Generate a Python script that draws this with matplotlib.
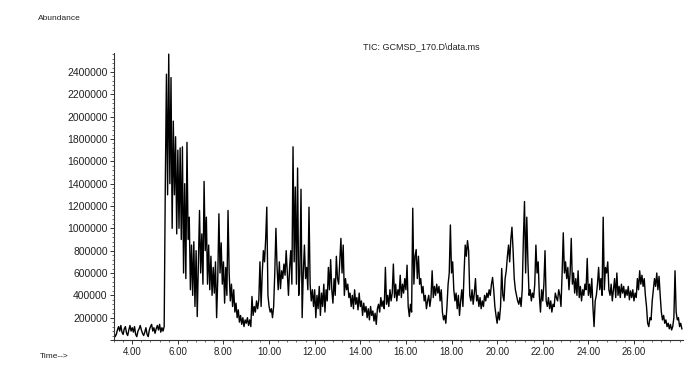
import numpy as np
import matplotlib
matplotlib.use("Agg")
import matplotlib.pyplot as plt
from matplotlib.ticker import MultipleLocator, FixedLocator, FuncFormatter

# scan grid (minutes) - TIC sampled every 0.05 min
SCAN_START = 3.20
SCAN_STEP = 0.05

# abundance in units of 10 000 counts, one row per minute
tic_1e4 = [
    # 3.20 - 3.95
    6, 3, 5, 9, 12, 8, 13, 7, 5, 10, 12, 6, 4, 9, 13, 8,
    # 4
    11, 7, 12, 5, 3, 8, 10, 13, 9, 6, 4, 7, 11, 5, 3, 9, 12, 14, 8, 11,
    # 5
    6, 10, 13, 9, 14, 7, 11, 8, 12, 140, 238, 130, 256, 140, 235, 100, 196, 130, 182, 95,
    # 6
    170, 100, 172, 90, 173, 60, 140, 55, 177, 90, 110, 45, 85, 40, 88, 30, 80, 21, 70, 116,
    # 7
    60, 95, 50, 142, 80, 110, 50, 85, 45, 75, 40, 65, 42, 70, 20, 55, 113, 60, 87, 50,
    # 8
    70, 33, 65, 40, 116, 60, 35, 50, 30, 45, 25, 33, 20, 27, 16, 22, 14, 20, 12, 18,
    # 9
    15, 20, 13, 18, 12, 39, 22, 30, 25, 35, 28, 36, 70, 30, 60, 80, 70, 90, 119, 40,
    # 10
    30, 25, 28, 20, 30, 60, 100, 65, 45, 70, 46, 62, 55, 68, 58, 80, 60, 40, 65, 80,
    # 11
    50, 173, 70, 137, 50, 154, 40, 60, 135, 20, 60, 85, 55, 65, 45, 119, 50, 35, 45, 30,
    # 12
    45, 20, 40, 28, 48, 22, 42, 30, 50, 25, 45, 35, 65, 45, 72, 45, 33, 55, 40, 75,
    # 13
    55, 50, 70, 91, 60, 85, 40, 55, 45, 50, 38, 42, 30, 40, 28, 45, 32, 38, 27, 42,
    # 14
    30, 35, 22, 33, 25, 30, 20, 28, 18, 30, 22, 26, 17, 24, 14, 28, 32, 25, 38, 30,
    # 15
    35, 28, 65, 32, 40, 30, 45, 35, 42, 68, 38, 50, 35, 45, 40, 58, 38, 50, 42, 55,
    # 16
    45, 67, 30, 21, 32, 25, 118, 50, 75, 81, 55, 75, 50, 55, 42, 48, 35, 40, 28, 35,
    # 17
    40, 30, 38, 62, 38, 48, 40, 50, 42, 48, 35, 45, 25, 18, 22, 15, 30, 50, 60, 103,
    # 18
    60, 70, 45, 35, 42, 28, 40, 22, 35, 45, 30, 60, 85, 75, 89, 80, 40, 35, 45, 32,
    # 19
    42, 55, 35, 40, 30, 38, 28, 35, 30, 40, 35, 42, 38, 45, 40, 50, 56, 45, 30, 22,
    # 20
    15, 25, 18, 30, 64, 40, 35, 55, 62, 75, 85, 70, 90, 101, 80, 55, 45, 40, 35, 32,
    # 21
    38, 30, 45, 90, 124, 60, 110, 70, 40, 45, 35, 42, 38, 50, 85, 60, 70, 40, 25, 45,
    # 22
    35, 50, 80, 35, 30, 38, 28, 35, 25, 32, 30, 42, 38, 35, 45, 40, 30, 60, 96, 60,
    # 23
    70, 55, 65, 45, 60, 91, 50, 60, 42, 55, 40, 62, 38, 48, 35, 45, 40, 50, 45, 73,
    # 24
    40, 50, 38, 55, 30, 12, 35, 40, 50, 65, 45, 55, 40, 110, 45, 65, 60, 70, 45, 40,
    # 25
    50, 35, 45, 55, 38, 60, 40, 48, 38, 50, 42, 48, 38, 45, 40, 48, 36, 44, 38, 45,
    # 26
    35, 42, 38, 55, 45, 62, 50, 58, 48, 55, 40, 30, 15, 12, 20, 18, 35, 45, 55, 48,
    # 27
    60, 45, 57, 40, 25, 18, 22, 15, 18, 12, 15, 10, 14, 9, 12, 20, 62, 25, 18, 20,
    # 28.00 - 28.10
    12, 15, 10,
]

time_labels = [4, 6, 8, 10, 12, 14, 16, 18, 20, 22, 24, 26]

abundance = np.array(tic_1e4, dtype=float) * 1e4
time_min = SCAN_START + SCAN_STEP * np.arange(len(abundance))

plt.rcParams['font.family'] = ['Liberation Sans', 'DejaVu Sans']

fig = plt.figure(figsize=(6.88, 3.68), dpi=100)
ax = fig.add_axes([114 / 688, 28 / 368, 569 / 688, 287 / 368])

ax.plot(time_min, abundance, color='#000000', linewidth=1.0)

ax.set_xlim(3.2, 28.15)
ax.set_ylim(0, 2.57e6)

ax.xaxis.set_major_locator(FixedLocator(time_labels))
ax.xaxis.set_minor_locator(MultipleLocator(0.4))
ax.xaxis.set_major_formatter(FuncFormatter(lambda v, p: f'{v:.2f}'))
ax.yaxis.set_major_locator(MultipleLocator(200000))
ax.yaxis.set_minor_locator(MultipleLocator(40000))
ax.yaxis.set_major_formatter(FuncFormatter(lambda v, p: '' if v == 0 else f'{int(v)}'))

for s in ('top', 'right'):
    ax.spines[s].set_visible(False)
for s in ('left', 'bottom'):
    ax.spines[s].set_linewidth(0.8)
    ax.spines[s].set_color('#333333')

ax.tick_params(which='major', length=3, width=0.7, pad=2, labelsize=7,
               color='#333333', labelcolor='#222222')
ax.tick_params(axis='y', which='major', labelsize=7.5, pad=1.5)
ax.tick_params(which='minor', length=1.5, width=0.6, color='#555555')

fig.text(38 / 688, 1 - 19 / 368, 'Abundance', fontsize=6, color='#222222', va='center')
fig.text(421 / 688, 1 - 47 / 368, 'TIC: GCMSD_170.D\\data.ms', fontsize=6.5,
         color='#222222', ha='center', va='center')
fig.text(40 / 688, 1 - 356 / 368, 'Time-->', fontsize=6, color='#222222', va='center')

fig.savefig('out.png', dpi=100)
